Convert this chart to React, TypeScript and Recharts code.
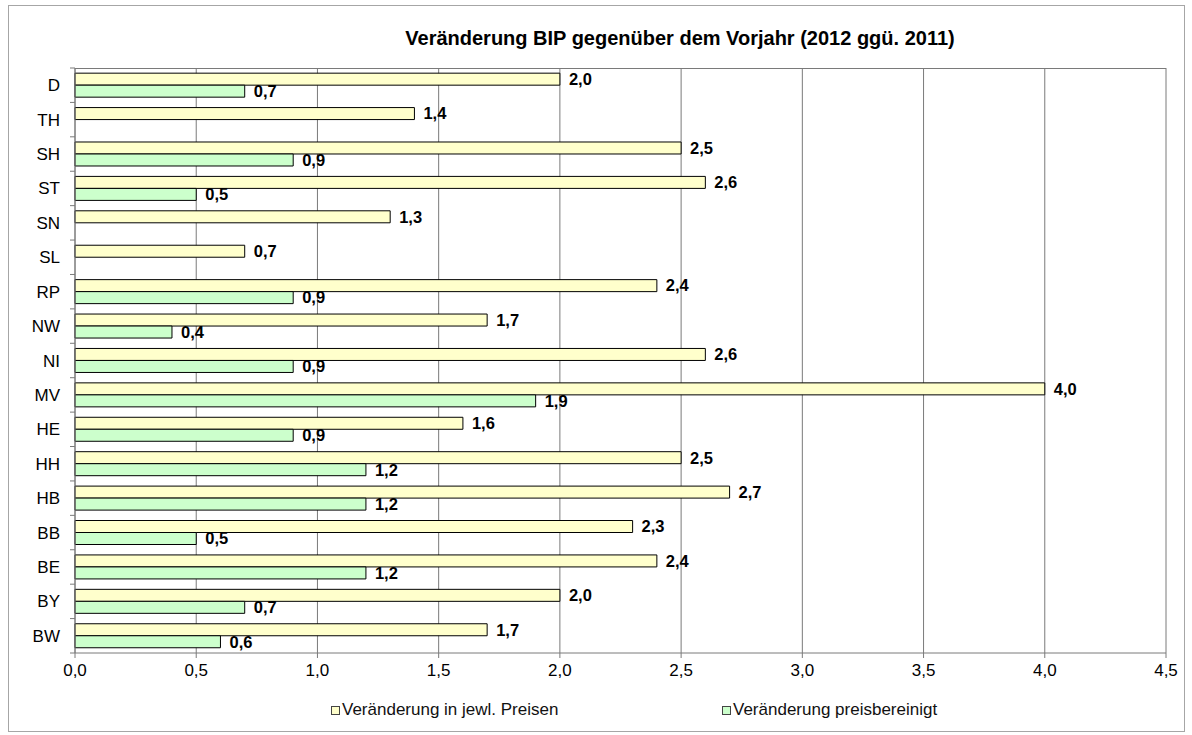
import React from "react";
import {
  BarChart,
  Bar,
  XAxis,
  YAxis,
  CartesianGrid,
  LabelList,
} from "recharts";

const categories = ["D", "TH", "SH", "ST", "SN", "SL", "RP", "NW", "NI", "MV", "HE", "HH", "HB", "BB", "BE", "BY", "BW"];
const nominal = [2.0, 1.4, 2.5, 2.6, 1.3, 0.7, 2.4, 1.7, 2.6, 4.0, 1.6, 2.5, 2.7, 2.3, 2.4, 2.0, 1.7];
const real: (number | null)[] = [0.7, null, 0.9, 0.5, null, null, 0.9, 0.4, 0.9, 1.9, 0.9, 1.2, 1.2, 0.5, 1.2, 0.7, 0.6];
const xTicks = [0, 0.5, 1, 1.5, 2, 2.5, 3, 3.5, 4, 4.5];

const data = categories.map((c, i) => ({ cat: c, nominal: nominal[i], real: real[i] }));

const W = 1192;
const H = 735;
const PLOT_LEFT = 75;
const PLOT_TOP = 68;
const PLOT_RIGHT = 1166;
const PLOT_BOTTOM = 653;
const BAND = (PLOT_BOTTOM - PLOT_TOP) / categories.length;

const FONT = "'Liberation Sans', Arial, sans-serif";
const GRID = "#7a7a7a";

const fmt = (v: unknown) => (typeof v === "number" ? v.toFixed(1).replace(".", ",") : "");

// category ticks sit between the bands, like the original spreadsheet chart
function CatTick(props: { x?: number; y?: number; payload?: { value: string }; index?: number }) {
  const { y = 0, payload, index = 0 } = props;
  return (
    <g>
      {index === 0 && (
        <line x1={PLOT_LEFT - 5} x2={PLOT_LEFT} y1={y - BAND / 2} y2={y - BAND / 2} stroke={GRID} />
      )}
      <line x1={PLOT_LEFT - 5} x2={PLOT_LEFT} y1={y + BAND / 2} y2={y + BAND / 2} stroke={GRID} />
      <text x={PLOT_LEFT - 15} y={y} dy={6} textAnchor="end" fontSize={17} fill="#000" fontFamily={FONT}>
        {payload?.value}
      </text>
    </g>
  );
}

function LegendItem({ color, label, left }: { color: string; label: string; left: number }) {
  return (
    <div style={{ position: "absolute", left, top: 700, display: "flex", alignItems: "center", fontFamily: FONT, fontSize: 17, color: "#111", whiteSpace: "nowrap" }}>
      <span style={{ display: "inline-block", width: 7, height: 7, background: color, border: "1px solid #444", marginRight: 2 }} />
      <span>{label}</span>
    </div>
  );
}

const labelStyle = { fontSize: 16.5, fontWeight: 700, fill: "#000", fontFamily: FONT };

export default function App() {
  return (
    <div style={{ position: "absolute", left: 0, top: 0, width: W, height: H, background: "#fff" }}>
      <div style={{ position: "absolute", left: 8, top: 5, width: 1177, height: 727, border: "1px solid #a6a6a6", boxSizing: "border-box" }} />
      <div style={{ position: "absolute", left: 0, width: 1360, top: 27, textAlign: "center", fontFamily: FONT, fontWeight: 700, fontSize: 20, color: "#000" }}>
        Veränderung BIP gegenüber dem Vorjahr (2012 ggü. 2011)
      </div>
      <div style={{ position: "absolute", left: 0, top: 0 }}>
        <BarChart
          width={W}
          height={H}
          data={data}
          layout="vertical"
          margin={{ left: 15, right: W - PLOT_RIGHT, top: PLOT_TOP, bottom: H - PLOT_BOTTOM - 30 }}
          barCategoryGap="15%"
          barGap={0}
        >
          <CartesianGrid horizontal={false} stroke={GRID} />
          <XAxis
            type="number"
            domain={[0, 4.5]}
            ticks={xTicks}
            interval={0}
            tickFormatter={(v: number) => v.toFixed(1).replace(".", ",")}
            axisLine={{ stroke: GRID }}
            tickLine={{ stroke: GRID }}
            tickSize={5}
            tickMargin={6}
            height={30}
            tick={{ fontSize: 17, fill: "#000", fontFamily: FONT }}
          />
          <YAxis
            type="category"
            dataKey="cat"
            width={PLOT_LEFT - 15}
            axisLine={{ stroke: GRID }}
            tickLine={false}
            interval={0}
            tick={<CatTick />}
          />
          <Bar dataKey="nominal" fill="#ffffcc" stroke="#000" strokeWidth={1} isAnimationActive={false}>
            <LabelList dataKey="nominal" position="right" offset={9} formatter={fmt} style={labelStyle} />
          </Bar>
          <Bar dataKey="real" fill="#ccffcc" stroke="#000" strokeWidth={1} isAnimationActive={false}>
            <LabelList dataKey="real" position="right" offset={9} formatter={fmt} style={labelStyle} />
          </Bar>
        </BarChart>
      </div>
      <div style={{ position: "absolute", left: PLOT_LEFT, top: PLOT_TOP, width: PLOT_RIGHT - PLOT_LEFT, height: 1, background: GRID }} />
      <LegendItem color="#ffffcc" label="Veränderung in jewl. Preisen" left={331} />
      <LegendItem color="#ccffcc" label="Veränderung preisbereinigt" left={722} />
    </div>
  );
}
